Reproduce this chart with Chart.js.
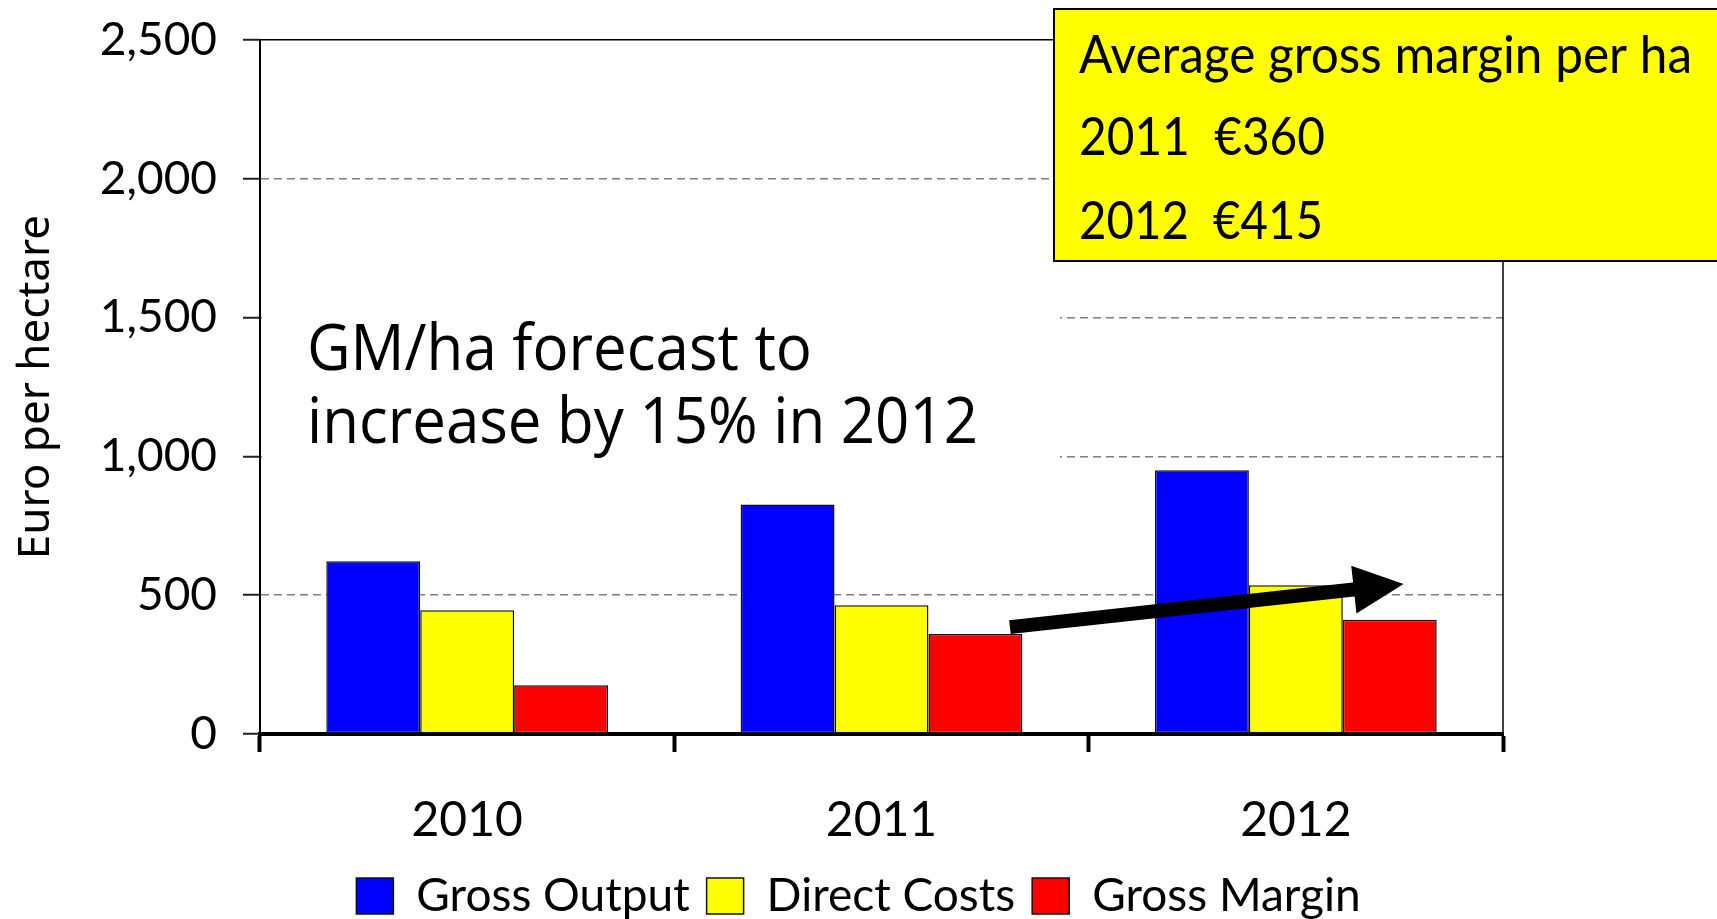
<!DOCTYPE html>
<html>
<head>
<meta charset="utf-8">
<script src="https://cdn.jsdelivr.net/npm/chart.js@4/dist/chart.umd.min.js"></script>
<style>
  html, body { margin: 0; padding: 0; background: #fff; }
  #wrap { width: 1717px; height: 919px; }
</style>
</head>
<body>
<div id="wrap"><canvas id="chart"></canvas></div>
<script>
const categories = ['2010', '2011', '2012'];
const grossOutput = [622, 827, 950];
const directCosts = [446, 464, 536];
const grossMargin = [176, 360, 412];
const yTicks = [0, 500, 1000, 1500, 2000, 2500];
const boxLines = ['Average gross margin per ha', '2011  €360', '2012  €415'];
const noteLines = ['GM/ha forecast to', 'increase by 15% in 2012'];
// arrow ends: [category index, value]
const arrowFrom = [1.31, 385];
const arrowTo = [2.26, 540];

const gill = 'Lato, "Gill Sans", sans-serif';

const extras = {
  id: 'extras',
  beforeDatasetsDraw(chart) {
    const { ctx, chartArea: a } = chart;
    ctx.save();
    // white backing of the note hides the grid lines
    ctx.fillStyle = '#fff';
    ctx.fillRect(a.left + 2, 284, 1060 - a.left - 2, 186);
    ctx.fillStyle = '#000';
    ctx.font = '64px "Open Sans", sans-serif';
    ctx.textBaseline = 'alphabetic';
    const s = 671 / ctx.measureText(noteLines[1]).width;
    ctx.translate(307, 0);
    ctx.scale(s, 1);
    ctx.fillText(noteLines[0], 0, 370);
    ctx.fillText(noteLines[1], 0, 443);
    ctx.restore();
  },
  afterDatasetsDraw(chart) {
    const { ctx, chartArea: a, scales } = chart;
    ctx.save();
    // right frame line
    ctx.strokeStyle = '#000';
    ctx.lineWidth = 1.5;
    ctx.beginPath();
    ctx.moveTo(a.right, a.top);
    ctx.lineTo(a.right, a.bottom);
    ctx.stroke();

    // arrow
    const x1 = scales.x.getPixelForValue(arrowFrom[0]);
    const y1 = scales.y.getPixelForValue(arrowFrom[1]);
    const x2 = scales.x.getPixelForValue(arrowTo[0]);
    const y2 = scales.y.getPixelForValue(arrowTo[1]);
    const ang = Math.atan2(y2 - y1, x2 - x1);
    const len = Math.hypot(x2 - x1, y2 - y1);
    ctx.translate(x1, y1);
    ctx.rotate(ang);
    ctx.fillStyle = '#000';
    const headL = 50, headW = 24, shaft = 7;
    ctx.fillRect(0, -shaft, len - headL + 2, shaft * 2);
    ctx.beginPath();
    ctx.moveTo(len, 0);
    ctx.lineTo(len - headL, -headW);
    ctx.lineTo(len - headL, headW);
    ctx.closePath();
    ctx.fill();
    ctx.restore();
  },
  afterDraw(chart) {
    const { ctx } = chart;
    ctx.save();
    ctx.fillStyle = '#ffff00';
    ctx.strokeStyle = '#000';
    ctx.lineWidth = 2;
    ctx.fillRect(1054, 9, 700, 252);
    ctx.strokeRect(1054, 9, 700, 252);
    ctx.fillStyle = '#000';
    ctx.font = '53px ' + gill;
    ctx.textBaseline = 'alphabetic';
    ctx.fillText(boxLines[0], 1079, 73, 613);
    ctx.fillText(boxLines[1], 1079, 155, 246);
    ctx.fillText(boxLines[2], 1079, 239, 244);
    ctx.restore();
  }
};

const isTop = c => c.tick && c.tick.value === 2500;

new Chart(document.getElementById('chart'), {
  type: 'bar',
  data: {
    labels: categories,
    datasets: [
      { label: 'Gross Output', data: grossOutput, backgroundColor: '#0000ff' },
      { label: 'Direct Costs', data: directCosts, backgroundColor: '#ffff00' },
      { label: 'Gross Margin', data: grossMargin, backgroundColor: '#ff0000' }
    ]
  },
  options: {
    responsive: true,
    maintainAspectRatio: false,
    animation: false,
    events: [],
    layout: { padding: { top: 40, right: 0, left: 0, bottom: -10 } },
    datasets: {
      bar: {
        categoryPercentage: 0.68,
        barPercentage: 1,
        borderColor: '#111',
        borderWidth: 1.5,
        borderSkipped: false
      }
    },
    plugins: {
      legend: {
        position: 'bottom',
        labels: {
          font: { family: gill, size: 46 },
          color: '#000',
          boxWidth: 37,
          boxHeight: 36,
          padding: 17
        }
      },
      tooltip: { enabled: false }
    },
    scales: {
      x: {
        grid: {
          drawOnChartArea: false,
          tickLength: 18,
          tickWidth: 4,
          tickColor: '#000'
        },
        border: { display: true, color: '#000', width: 4 },
        ticks: {
          color: '#000',
          font: { family: gill, size: 48 },
          padding: 40
        },
        afterFit(scale) { scale.height = 122; }
      },
      y: {
        min: 0,
        max: 2500,
        afterBuildTicks(scale) { scale.ticks = yTicks.map(v => ({ value: v })); },
        grid: {
          color: c => isTop(c) ? '#000' : (c.tick && c.tick.value === 0 ? 'rgba(0,0,0,0)' : '#7f7f7f'),
          lineWidth: 1.5,
          tickLength: 17,
          tickColor: '#222',
          tickWidth: 2,
          tickBorderDash: []
        },
        border: {
          display: true,
          color: '#000',
          width: 2,
          dash: c => (!c.tick || isTop(c)) ? [] : [8, 5]
        },
        ticks: {
          color: '#000',
          font: { family: gill, size: 46, lineHeight: 0.5 },
          padding: 26,
          callback: v => v.toLocaleString('en-US')
        },
        title: {
          display: true,
          text: 'Euro per hectare',
          color: '#000',
          font: { family: '"Noto Sans", sans-serif', size: 44 },
          padding: { top: 10, bottom: 0 }
        },
        afterFit(scale) { scale.width = 260; }
      },
      // empty right-hand spacer so the legend stays centred on the canvas
      spacer: {
        type: 'linear',
        position: 'right',
        display: true,
        grid: { display: false },
        border: { display: false },
        ticks: { display: false },
        afterFit(scale) { scale.width = 214; }
      }
    }
  },
  plugins: [extras]
});
</script>
</body>
</html>
